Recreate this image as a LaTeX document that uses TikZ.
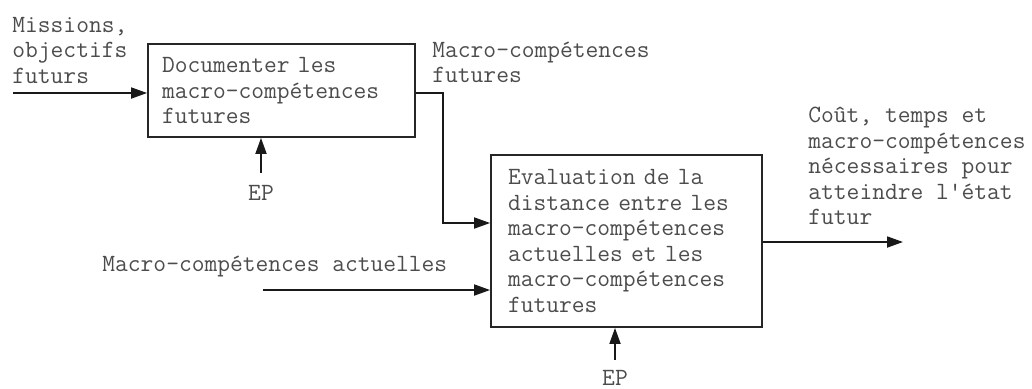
\documentclass[tikz,border=0pt]{standalone}
\usepackage{fontspec}
\setmonofont{Latin Modern Mono}
\usetikzlibrary{arrows.meta,positioning,calc}

\begin{document}
\begin{tikzpicture}[x=0.5pt,y=-0.5pt,font=\ttfamily\fontsize{12.4}{12.75}\selectfont,
  procbox/.style={draw=black!85,line width=0.9pt,align=left,inner sep=0pt,text=black!70},
  flowlbl/.style={inner sep=0pt,align=left,anchor=west,text=black!70},
  eplbl/.style={inner sep=0pt,text=black!70},
  flowarr/.style={-{Triangle[length=8pt,width=5.5pt]},line width=0.9pt,black!90}]
                \useasboundingbox (0,0) rectangle (1032,388);
                \node[procbox,minimum width=133.5pt,minimum height=46.5pt,text width=119.5pt]
                (doc) at (281.5,90.5) {Documenter les\\macro-compétences\\futures};
                \node[procbox,minimum width=135.5pt,minimum height=86pt,text width=118.5pt]
                (eval) at (626.5,241) {Evaluation de la\\distance entre les\\macro-compétences\\actuelles et les\\macro-compétences\\futures};
                \node[flowlbl] (mislbl) at (12,50) {Missions,\\objectifs\\futurs};
                \node[flowlbl] (futlbl) at (432,62.5) {Macro-compétences\\futures};
                \node[flowlbl] (actlbl) at (102,267) {Macro-compétences actuelles};
                \node[flowlbl] (reslbl) at (808,166) {Coût, temps et\\macro-compétences\\nécessaires pour\\atteindre l'état\\futur};
                \node[eplbl] (ep1lbl) at (261,193) {EP};
                \node[eplbl] (ep2lbl) at (615,377.5) {EP};
                \coordinate (misin) at (13,93);
                \coordinate (futbend) at (443,223);
                \coordinate (actin) at (263,290);
                \coordinate (resout) at (903,242);
                \coordinate (ep1in) at (261,173);
                \coordinate (ep2in) at (615,360);
                \draw[flowarr] (misin) -- (misin -| doc.west);
                \draw[flowarr] (ep1in) -- (ep1in |- doc.south);
                \draw[flowarr] (doc.east |- misin) -| (futbend) -- (futbend -| eval.west);
                \draw[flowarr] (actin) -- (actin -| eval.west);
                \draw[flowarr] (ep2in) -- (ep2in |- eval.south);
                \draw[flowarr] (eval.east |- resout) -- (resout);
            \end{tikzpicture}
\end{document}
